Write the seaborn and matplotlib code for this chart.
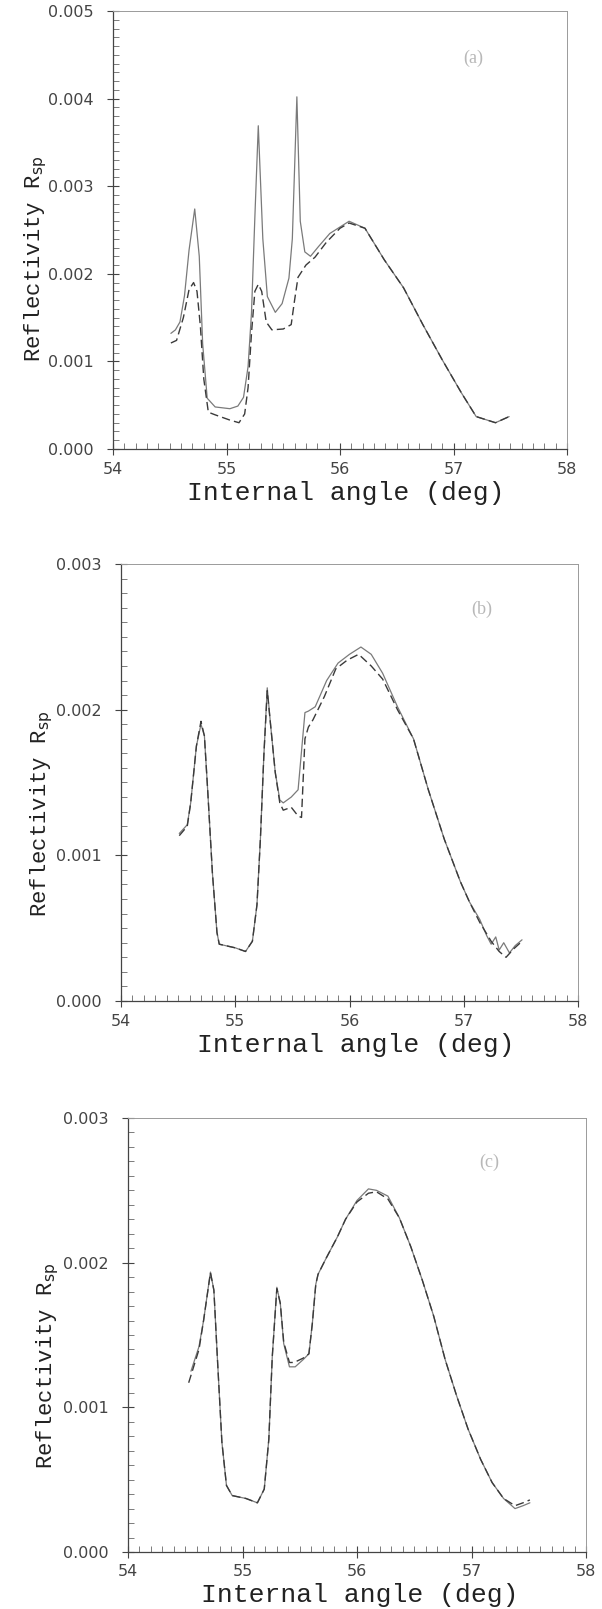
import matplotlib
matplotlib.use("Agg")
import matplotlib.pyplot as plt
from matplotlib.ticker import MultipleLocator, FormatStrFormatter
import seaborn as sns

# ---- data: internal angle (deg) and reflectivity R_sp (x 1e-3) ----
# (a)
angle_a_solid = [54.51, 54.55, 54.59, 54.63, 54.67, 54.72, 54.76, 54.79, 54.83, 54.90,
                 55.03, 55.10, 55.15, 55.19, 55.22, 55.25, 55.28, 55.32, 55.36, 55.43,
                 55.49, 55.55, 55.58, 55.62, 55.65, 55.69, 55.74, 55.81, 55.91, 56.08,
                 56.22, 56.39, 56.56, 56.73, 56.90, 57.07, 57.20, 57.37, 57.49]
refl_a_solid = [1.32, 1.36, 1.45, 1.75, 2.27, 2.74, 2.20, 1.20, 0.58, 0.48,
                0.46, 0.49, 0.59, 0.94, 1.55, 2.65, 3.69, 2.40, 1.74, 1.56,
                1.66, 1.95, 2.40, 4.02, 2.60, 2.25, 2.20, 2.31, 2.46, 2.60,
                2.52, 2.16, 1.84, 1.42, 1.02, 0.64, 0.37, 0.30, 0.37]
angle_a_dash = [54.51, 54.56, 54.62, 54.67, 54.71, 54.74, 54.77, 54.80, 54.84, 54.90,
                55.03, 55.11, 55.16, 55.19, 55.22, 55.25, 55.28, 55.31, 55.35, 55.40,
                55.50, 55.57, 55.60, 55.63, 55.70, 55.78, 55.88, 56.00, 56.08, 56.22,
                56.39, 56.56, 56.73, 56.90, 57.07, 57.20, 57.37, 57.49]
refl_a_dash = [1.21, 1.24, 1.50, 1.82, 1.90, 1.80, 1.40, 0.80, 0.42, 0.39,
               0.33, 0.30, 0.40, 0.70, 1.32, 1.80, 1.88, 1.80, 1.45, 1.36,
               1.37, 1.42, 1.70, 1.96, 2.10, 2.19, 2.36, 2.52, 2.58, 2.52,
               2.16, 1.84, 1.42, 1.02, 0.64, 0.37, 0.30, 0.37]

# (b)
angle_b_solid = [54.51, 54.58, 54.61, 54.66, 54.70, 54.73, 54.76, 54.80, 54.84, 54.86,
                 55.00, 55.09, 55.15, 55.19, 55.22, 55.25, 55.28, 55.31, 55.35, 55.39,
                 55.42, 55.49, 55.55, 55.61, 55.64, 55.70, 55.80, 55.90, 56.00, 56.10,
                 56.19, 56.29, 56.42, 56.56, 56.69, 56.83, 56.97, 57.05, 57.14, 57.20,
                 57.24, 57.28, 57.31, 57.35, 57.40, 57.45, 57.51]
refl_b_solid = [1.15, 1.21, 1.36, 1.75, 1.90, 1.82, 1.43, 0.88, 0.47, 0.39,
                0.365, 0.34, 0.41, 0.66, 1.11, 1.68, 2.15, 1.89, 1.57, 1.38,
                1.36, 1.40, 1.45, 1.98, 1.99, 2.02, 2.20, 2.32, 2.38, 2.43,
                2.38, 2.25, 2.02, 1.80, 1.45, 1.11, 0.82, 0.68, 0.56, 0.45,
                0.39, 0.44, 0.35, 0.40, 0.33, 0.38, 0.42]
angle_b_dash = [54.51, 54.58, 54.61, 54.66, 54.70, 54.73, 54.76, 54.80, 54.84, 54.86,
                55.00, 55.09, 55.15, 55.19, 55.22, 55.25, 55.28, 55.31, 55.35, 55.39,
                55.42, 55.49, 55.55, 55.58, 55.61, 55.64, 55.68, 55.78, 55.88, 55.98,
                56.08, 56.19, 56.29, 56.42, 56.56, 56.69, 56.83, 56.97, 57.05, 57.14,
                57.24, 57.31, 57.37, 57.44, 57.51]
refl_b_dash = [1.135, 1.20, 1.36, 1.75, 1.92, 1.82, 1.43, 0.88, 0.47, 0.39,
               0.365, 0.34, 0.41, 0.66, 1.11, 1.68, 2.13, 1.89, 1.57, 1.36,
               1.31, 1.33, 1.27, 1.26, 1.80, 1.88, 1.93, 2.09, 2.28, 2.34,
               2.38, 2.30, 2.21, 2.00, 1.80, 1.45, 1.11, 0.82, 0.68, 0.54,
               0.41, 0.34, 0.30, 0.36, 0.41]

# (c)
angle_c_solid = [54.55, 54.62, 54.66, 54.72, 54.75, 54.78, 54.82, 54.86, 54.91, 55.03,
                 55.13, 55.19, 55.23, 55.26, 55.30, 55.33, 55.36, 55.41, 55.46, 55.53,
                 55.58, 55.61, 55.64, 55.66, 55.73, 55.83, 55.90, 56.00, 56.10, 56.17,
                 56.27, 56.37, 56.47, 56.57, 56.67, 56.77, 56.87, 56.97, 57.08, 57.18,
                 57.28, 57.38, 57.45, 57.51]
refl_c_solid = [1.25, 1.42, 1.60, 1.935, 1.81, 1.35, 0.76, 0.46, 0.39, 0.37,
                0.34, 0.435, 0.78, 1.35, 1.83, 1.72, 1.44, 1.28, 1.28, 1.33,
                1.37, 1.58, 1.85, 1.92, 2.03, 2.18, 2.30, 2.43, 2.51, 2.50,
                2.46, 2.31, 2.11, 1.88, 1.63, 1.33, 1.08, 0.85, 0.64, 0.48,
                0.37, 0.30, 0.32, 0.34]
angle_c_dash = [54.53, 54.62, 54.66, 54.72, 54.75, 54.78, 54.82, 54.86, 54.91, 55.03,
                55.13, 55.19, 55.23, 55.26, 55.30, 55.33, 55.36, 55.41, 55.45, 55.53,
                55.58, 55.61, 55.64, 55.66, 55.73, 55.83, 55.90, 56.00, 56.10, 56.17,
                56.27, 56.37, 56.47, 56.57, 56.67, 56.77, 56.87, 56.97, 57.08, 57.18,
                57.28, 57.38, 57.45, 57.51]
refl_c_dash = [1.17, 1.40, 1.60, 1.93, 1.81, 1.35, 0.76, 0.46, 0.39, 0.37,
               0.34, 0.435, 0.78, 1.35, 1.82, 1.72, 1.45, 1.31, 1.31, 1.34,
               1.37, 1.58, 1.85, 1.92, 2.03, 2.18, 2.30, 2.42, 2.48, 2.49,
               2.44, 2.31, 2.11, 1.88, 1.63, 1.33, 1.08, 0.85, 0.64, 0.48,
               0.37, 0.32, 0.34, 0.36]

panel_tags = ["(a)", "(b)", "(c)"]
y_limits = [0.005, 0.003, 0.003]
x_ticks = [54, 55, 56, 57, 58]
x_title = "Internal angle (deg)"
y_title = r"Reflectivity R$_{\mathrm{sp}}$"

sns.set_theme(style="white")
plt.rcParams["mathtext.fontset"] = "custom"
plt.rcParams["mathtext.rm"] = "DejaVu Sans"

fig = plt.figure(figsize=(6.02, 16.09), dpi=100)

# axes boxes in figure pixels: left, top, right, bottom
boxes = [(113, 11, 567, 449), (121, 564, 578, 1001), (128, 1118, 586, 1552)]
W, H = 602.0, 1609.0
tag_pos = [(473, 58), (482, 609), (489, 1162)]
xlabel_center = [(346, 493), (356, 1045), (360, 1595)]
ylabel_center = [(36, 259), (42, 814), (48, 1366)]

series = [
    (angle_a_solid, refl_a_solid, angle_a_dash, refl_a_dash),
    (angle_b_solid, refl_b_solid, angle_b_dash, refl_b_dash),
    (angle_c_solid, refl_c_solid, angle_c_dash, refl_c_dash),
]

label_font = "Liberation Mono"
tick_color = "#444444"

for i, (xs, ys, xd, yd) in enumerate(series):
    l, t, r, b = boxes[i]
    ax = fig.add_axes([l / W, 1 - b / H, (r - l) / W, (b - t) / H])
    ys_abs = [v * 1e-3 for v in ys]
    yd_abs = [v * 1e-3 for v in yd]
    sns.lineplot(x=xs, y=ys_abs, ax=ax, color="#7a7a7a", linewidth=0.9,
                 sort=False, estimator=None)
    sns.lineplot(x=xd, y=yd_abs, ax=ax, color="#3a3a3a", linewidth=1.0,
                 linestyle=(0, (6, 3)), sort=False, estimator=None)

    ax.set_xlim(54, 58)
    ax.set_ylim(0, y_limits[i])
    ax.set_xticks(x_ticks)
    ax.xaxis.set_minor_locator(MultipleLocator(0.1))
    ax.yaxis.set_major_locator(MultipleLocator(0.001))
    ax.yaxis.set_minor_locator(MultipleLocator(0.0001))
    ax.yaxis.set_major_formatter(FormatStrFormatter("%.3f"))

    ax.tick_params(which="major", direction="inout", length=8, width=0.8,
                   color="#444444", labelsize=11.5, labelcolor=tick_color,
                   bottom=True, left=True, top=False, right=False)
    ax.tick_params(which="minor", direction="in", length=4, width=0.6,
                   color="#666666", bottom=True, left=True, top=False, right=False)
    ax.tick_params(axis="x", pad=5)
    ax.tick_params(axis="y", pad=10)

    for side in ("left", "bottom"):
        ax.spines[side].set_color("#444444")
        ax.spines[side].set_linewidth(0.9)
    for side in ("top", "right"):
        ax.spines[side].set_color("#9a9a9a")
        ax.spines[side].set_linewidth(0.7)

    ax.set_xlabel("")
    ax.set_ylabel("")

    tx, ty = tag_pos[i]
    fig.text(tx / W, 1 - ty / H, panel_tags[i], ha="center", va="center",
             fontsize=13, color="#b8b8b8", family="Liberation Serif")

    cx, cy = xlabel_center[i]
    fig.text(cx / W, 1 - cy / H, x_title, ha="center", va="center",
             fontsize=19, color="#222222", family=label_font)
    lx, ly = ylabel_center[i]
    fig.text(lx / W, 1 - ly / H, y_title, ha="center", va="center",
             rotation=90, fontsize=16, color="#222222", family=label_font)

fig.savefig("out.png", dpi=100, facecolor="white")
